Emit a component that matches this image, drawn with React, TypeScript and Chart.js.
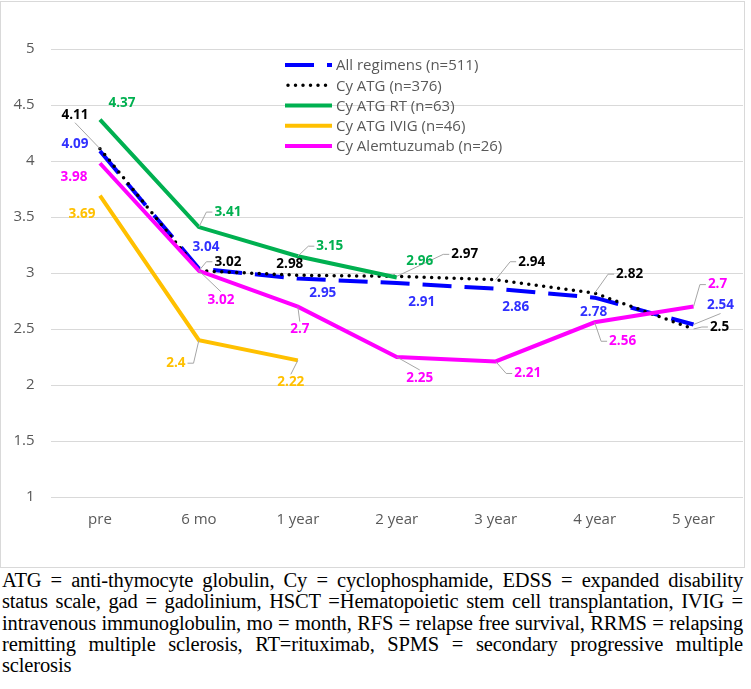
import React, { useEffect, useRef } from 'react';
import { Chart, registerables } from 'chart.js';

Chart.register(...registerables);

// ---- data ----
const categories = ['pre', '6 mo', '1 year', '2 year', '3 year', '4 year', '5 year'];
const seriesNames = [
  'All regimens (n=511)',
  'Cy ATG (n=376)',
  'Cy ATG RT (n=63)',
  'Cy ATG IVIG (n=46)',
  'Cy Alemtuzumab (n=26)',
];
const allRegimens = [4.09, 3.04, 2.95, 2.91, 2.86, 2.78, 2.54];
const cyAtg = [4.11, 3.02, 2.98, 2.97, 2.94, 2.82, 2.5];
const cyAtgRt = [4.37, 3.41, 3.15, 2.96, null, null, null];
const cyAtgIvig = [3.69, 2.4, 2.22, null, null, null, null];
const cyAlemtuzumab = [3.98, 3.02, 2.7, 2.25, 2.21, 2.56, 2.7];
const yMin = 1;
const yMax = 5;
const yStep = 0.5;

const captionLines = [
  'ATG = anti-thymocyte globulin, Cy = cyclophosphamide, EDSS = expanded disability',
  'status scale, gad = gadolinium, HSCT =Hematopoietic stem cell transplantation, IVIG =',
  'intravenous immunoglobulin, mo = month, RFS = relapse free survival, RRMS = relapsing',
  'remitting multiple sclerosis, RT=rituximab, SPMS = secondary progressive multiple',
  'sclerosis',
];

// label placement (pixel offsets from the point, leader anchor side)
const blueLabelPos = [[-25, -7, ''], [7, -21, ''], [25, 15, ''], [25, 19, ''], [20, 18, ''], [-1, 15, ''], [27, -19, 'b']];
const blackLabelPos = [[-25, -34, 'b'], [29, -9, 'l'], [-8, -11, ''], [68, -22, 'l'], [36, -18, 'l'], [35, -19, 'l'], [26, -2, 'l']];
const greenLabelPos = [[22, -16, ''], [29, -15, 'l'], [32, -10, 'l'], [23, -16, '']];
const orangeLabelPos = [[-18, 18, ''], [-23, 23, 'r'], [-7, 22, 't']];
const magentaLabelPos = [[-26, 14, ''], [22, 29, 't'], [2, 23, 't'], [23, 21, 't'], [32, 12, 'l'], [28, 19, 'l'], [24, -22, 'l']];

const FONT = '"Open Sans", "Liberation Sans", sans-serif';

const labelPlugin = {
  id: 'excelLabels',
  afterDatasetsDraw(chart: any) {
    const ctx = chart.ctx;
    ctx.save();
    chart.data.datasets.forEach((ds: any, i: number) => {
      const meta = chart.getDatasetMeta(i);
      ds.data.forEach((v: any, j: number) => {
        if (v == null) return;
        const pt = meta.data[j];
        const pos = ds.labelPos[j];
        const dx = pos[0], dy = pos[1], anchor = pos[2];
        const text = String(v);
        ctx.font = 'bold 13.5px ' + FONT;
        const w = ctx.measureText(text).width;
        const h = 14;
        const cx = pt.x + dx;
        const cy = pt.y + dy;
        if (anchor) {
          const left = cx - w / 2 - 2;
          const right = cx + w / 2 + 2;
          const top = cy - h / 2 - 1;
          const bottom = cy + h / 2 + 1;
          ctx.strokeStyle = '#a6a6a6';
          ctx.lineWidth = 1;
          ctx.setLineDash([]);
          ctx.beginPath();
          if (anchor === 'l') {
            ctx.moveTo(left, cy);
            ctx.lineTo(left - 6, cy);
            ctx.lineTo(pt.x, pt.y);
          } else if (anchor === 'r') {
            ctx.moveTo(right, cy);
            ctx.lineTo(right + 6, cy);
            ctx.lineTo(pt.x, pt.y);
          } else if (anchor === 't') {
            ctx.moveTo(cx, top);
            ctx.lineTo(pt.x, pt.y);
          } else if (anchor === 'b') {
            ctx.moveTo(cx, bottom);
            ctx.lineTo(pt.x, pt.y);
          }
          ctx.stroke();
        }
        ctx.fillStyle = ds.labelColor;
        ctx.textAlign = 'center';
        ctx.textBaseline = 'middle';
        ctx.fillText(text, cx, cy);
      });
    });
    ctx.restore();
  },
  afterDraw(chart: any) {
    const ctx = chart.ctx;
    ctx.save();
    const x0 = 284;
    const x1 = 331;
    const y0 = 63;
    const gap = 20.25;
    chart.data.datasets.forEach((ds: any, i: number) => {
      const y = y0 + i * gap;
      ctx.strokeStyle = ds.borderColor;
      ctx.lineWidth = ds.borderWidth;
      ctx.lineCap = ds.borderCapStyle || 'butt';
      ctx.setLineDash(ds.borderDash || []);
      ctx.beginPath();
      ctx.moveTo(x0 + (ds.borderCapStyle === 'round' ? 3 : 0), y);
      ctx.lineTo(x1, y);
      ctx.stroke();
      ctx.setLineDash([]);
      ctx.fillStyle = '#595959';
      ctx.font = '15px ' + FONT;
      ctx.textAlign = 'left';
      ctx.textBaseline = 'middle';
      ctx.fillText(ds.label, x1 + 4, y + 1);
    });
    ctx.restore();
  },
};

export default function App() {
  const ref = useRef<HTMLCanvasElement | null>(null);

  useEffect(() => {
    document.body.style.margin = '0';
    const canvas = ref.current;
    if (!canvas) return;
    const chart = new Chart(canvas, {
      type: 'line',
      data: {
        labels: categories,
        datasets: [
          {
            label: seriesNames[0],
            data: allRegimens,
            borderColor: '#0000ff',
            borderWidth: 4,
            borderDash: [29, 13],
            borderCapStyle: 'butt',
            pointRadius: 0,
            order: 5,
            labelColor: '#3030ff',
            labelPos: blueLabelPos,
          } as any,
          {
            label: seriesNames[1],
            data: cyAtg,
            borderColor: '#000000',
            borderWidth: 3.5,
            borderDash: [0, 7.5],
            borderCapStyle: 'round',
            pointRadius: 0,
            order: 4,
            labelColor: '#000000',
            labelPos: blackLabelPos,
          } as any,
          {
            label: seriesNames[2],
            data: cyAtgRt,
            borderColor: '#00b050',
            borderWidth: 4,
            pointRadius: 0,
            order: 3,
            labelColor: '#00b050',
            labelPos: greenLabelPos,
          } as any,
          {
            label: seriesNames[3],
            data: cyAtgIvig,
            borderColor: '#ffc000',
            borderWidth: 4,
            pointRadius: 0,
            order: 2,
            labelColor: '#ffc000',
            labelPos: orangeLabelPos,
          } as any,
          {
            label: seriesNames[4],
            data: cyAlemtuzumab,
            borderColor: '#ff00ff',
            borderWidth: 4,
            pointRadius: 0,
            order: 1,
            labelColor: '#ff00ff',
            labelPos: magentaLabelPos,
          } as any,
        ],
      },
      options: {
        responsive: false,
        animation: false,
        devicePixelRatio: 1,
        layout: { padding: { top: 47, left: 0, right: 0, bottom: 0 } },
        plugins: {
          legend: { display: false },
          tooltip: { enabled: false },
        },
        elements: { line: { tension: 0 } },
        scales: {
          x: {
            type: 'category',
            offset: true,
            grid: { display: false, drawTicks: false },
            border: { display: false },
            ticks: {
              color: '#595959',
              font: { family: FONT, size: 15 },
              padding: 14,
              maxRotation: 0,
            },
            afterFit(scale: any) {
              scale.height = 69;
            },
          },
          y: {
            min: yMin,
            max: yMax,
            grid: { color: '#d9d9d9', lineWidth: 1, drawTicks: false },
            border: { display: false },
            ticks: {
              stepSize: yStep,
              color: '#595959',
              font: { family: FONT, size: 15 },
              padding: 16,
              callback: (value: any) => String(Number(value)),
            },
            afterFit(scale: any) {
              scale.width = 49.5;
            },
          },
        },
      } as any,
      plugins: [labelPlugin],
    });
    return () => chart.destroy();
  }, []);

  return (
    <div style={{ position: 'relative', width: 751, height: 689, background: '#fff' }}>
      <div
        style={{
          position: 'absolute',
          left: 0,
          top: 1,
          width: 745,
          height: 567,
          boxSizing: 'border-box',
          border: '1px solid #d9d9d9',
        }}
      >
        <canvas ref={ref} width={742} height={564} style={{ display: 'block', width: 742, height: 564 }} />
      </div>
      <div
        style={{
          position: 'absolute',
          left: 2,
          top: 570,
          width: 741,
          fontFamily: '"Liberation Serif", "Times New Roman", serif',
          fontSize: 20.5,
          letterSpacing: -0.15,
          lineHeight: '21.3px',
          color: '#000',
        }}
      >
        {captionLines.map((line, i) => (
          <div
            key={i}
            style={{
              textAlign: 'justify',
              textAlignLast: i < captionLines.length - 1 ? 'justify' : 'left',
            }}
          >
            {line}
          </div>
        ))}
      </div>
    </div>
  );
}
